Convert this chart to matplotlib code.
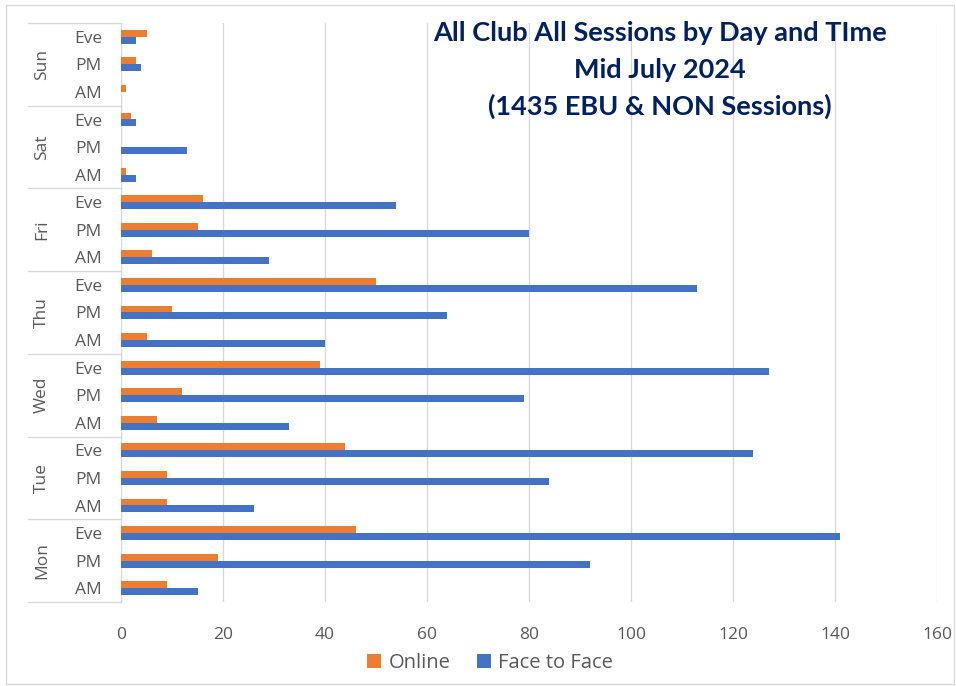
import matplotlib
matplotlib.use("Agg")
import matplotlib.pyplot as plt
from matplotlib.patches import Rectangle
from matplotlib.lines import Line2D
import matplotlib.transforms as mtrans
import numpy as np

days = ["Mon", "Tue", "Wed", "Thu", "Fri", "Sat", "Sun"]
times = ["AM", "PM", "Eve"]
online = [9, 19, 46, 9, 9, 44, 7, 12, 39, 5, 10, 50, 6, 15, 16, 1, 0, 2, 1, 3, 5]
face_to_face = [15, 92, 141, 26, 84, 124, 33, 79, 127, 40, 64, 113, 29, 80, 54, 3, 13, 3, 0, 4, 3]
xticks = [0, 20, 40, 60, 80, 100, 120, 140, 160]
title_lines = ["All Club All Sessions by Day and TIme", "Mid July 2024", "(1435 EBU & NON Sessions)"]

plt.rcParams['font.family'] = ['Open Sans', 'DejaVu Sans']
W, H = 956, 686
fig = plt.figure(figsize=(W / 100, H / 100), dpi=100)
left, right, top, bottom = 121, 937, 23, 602
ax = fig.add_axes([left / W, 1 - bottom / H, (right - left) / W, (bottom - top) / H])

n = len(online)
y = np.arange(n)
bh = 0.25
orange = "#ED7D31"
blue = "#4472C4"
ax.barh(y + bh / 2, online, height=bh, color=orange, label="Online", zorder=3)
ax.barh(y - bh / 2, face_to_face, height=bh, color=blue, label="Face to Face", zorder=3)

ax.set_xlim(0, 160)
ax.set_ylim(-0.5, n - 0.5)
ax.set_xticks(xticks)
ax.set_xticklabels([str(v) for v in xticks])
ax.set_yticks(y)
ax.set_yticklabels([times[i % 3] for i in range(n)])
ax.tick_params(axis='both', length=0, labelcolor="#595959", labelsize=12.5)
ax.tick_params(axis='x', pad=18)
for lab in ax.get_yticklabels():
    lab.set_horizontalalignment('center')
ax.yaxis.set_tick_params(pad=(left - 88) * 72 / 100)
ax.xaxis.grid(True, color="#D9D9D9", linewidth=1, zorder=0)
for s in ["top", "right", "bottom"]:
    ax.spines[s].set_visible(False)
ax.spines["left"].set_color("#D9D9D9")

trans = mtrans.blended_transform_factory(ax.transAxes, ax.transData)
xsep = (28 - left) / (right - left)
for g in range(len(days) + 1):
    yy = g * 3 - 0.5
    ax.add_line(Line2D([xsep, 0], [yy, yy], transform=trans, color="#D9D9D9", linewidth=1, clip_on=False))
for g, d in enumerate(days):
    ax.text((42 - left) / (right - left), g * 3 + 1, d, transform=trans, rotation=90,
            ha='center', va='center', color="#595959", fontsize=12.5)

for yy, line in zip([33, 70, 106], title_lines):
    fig.text(660 / W, 1 - yy / H, line, ha='center', va='center', color="#002060",
             fontsize=19.5, fontweight='bold', family=['Lato', 'DejaVu Sans'])

handles, labels = ax.get_legend_handles_labels()
fig.legend(handles, labels, loc='center', bbox_to_anchor=(490 / W, 1 - 663 / H), ncol=2,
           frameon=False, fontsize=14.5, handlelength=0.7, handleheight=0.7, handletextpad=0.35,
           columnspacing=1.3, labelcolor="#595959")

fig.patches.append(Rectangle((6 / W, 1 - 684 / H), (954 - 6) / W, (684 - 5) / H, transform=fig.transFigure,
                             fill=False, edgecolor="#D9D9D9", linewidth=1))

fig.savefig("out.png", dpi=100)
